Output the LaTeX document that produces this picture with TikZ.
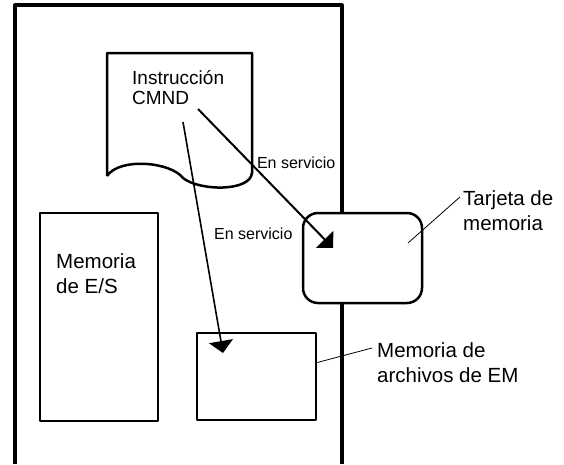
\documentclass[tikz,border=0pt]{standalone}
\usepackage{fontspec}
\setmainfont{Liberation Sans}
\usetikzlibrary{arrows.meta, positioning}

\begin{document}
\begin{tikzpicture}[x=1pt, y=-1pt, line join=round,
        membox/.style={draw, line width=2.5pt, inner sep=0pt},
        lbl/.style={inner sep=0pt, anchor=north west, align=left, font=\fontsize{20.5}{25}\selectfont},
        tag/.style={inner sep=0pt, font=\fontsize{16}{19}\selectfont},
        flow/.style={line width=2pt, -{Triangle[angle=90:17pt]}},
        leader/.style={line width=0.8pt}]
            \useasboundingbox (0,0) rectangle (564,464);

            % CPU unit frame, open at the bottom
            \coordinate (frameBL) at (15,464);
            \coordinate (frameTL) at (15,5);
            \coordinate (frameTR) at (342,5);
            \coordinate (frameBR) at (342,464);
            \draw[line width=3.2pt] (frameBL) -- (frameTL) -- (frameTR) -- (frameBR);

            % instruction sheet
            \draw[line width=2.5pt] (107,176) -- (107,53) -- (252,53) -- (252,173)
                .. controls (250,192) and (199,191) .. (183,178)
                .. controls (171,162) and (120,157) .. (107,176);
            \node[lbl, font=\fontsize{19}{20}\selectfont] (cmnd) at (132,70) {Instrucción\\CMND};

            \node[membox, minimum width=118pt, minimum height=208pt] (esmem) at (99,317) {};
            \node[lbl] (esmemtxt) at (56,253) {Memoria\\de E/S};

            \node[membox, minimum width=119pt, minimum height=87pt] (emmem) at (256.5,376.5) {};
            \node[membox, fill=white, rounded corners=15pt, minimum width=119pt, minimum height=90pt] (card) at (362.5,258) {};

            \node[lbl] (cardtxt) at (463,190) {Tarjeta de\\memoria};
            \node[lbl] (emtxt) at (377,342) {Memoria de\\archivos de EM};

            \coordinate (cmndA) at (198,109);
            \coordinate (cmndB) at (183,122);
            \coordinate (cardtip) at (333,248);
            \coordinate (emtip) at (223,353);
            \coordinate (cardpin) at (408,243);

            \draw[flow] (cmndA) -- node[tag, pos=0.43, anchor=base west] (svcA) {En servicio} (cardtip);
            \draw[flow, line width=1.6pt] (cmndB) -- node[tag, pos=0.51, anchor=base west, xshift=10pt] (svcB) {En servicio} (emtip);

            \draw[leader] (cardpin) -- ([xshift=-3pt, yshift=-7pt]cardtxt.north west);
            \draw[leader] ([yshift=14pt]emmem.east) -- ([xshift=-5pt, yshift=-6pt]emtxt.north west);
        \end{tikzpicture}
\end{document}
